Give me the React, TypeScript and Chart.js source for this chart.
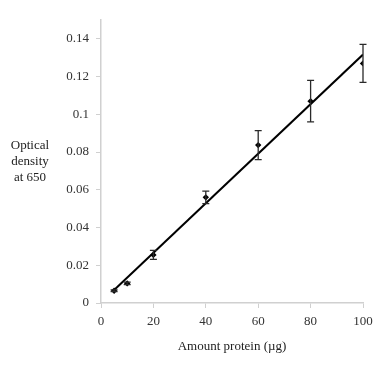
import React, { useEffect, useRef } from "react";
import { Chart, registerables } from "chart.js";

Chart.register(...registerables);

const proteinUg = [5, 10, 20, 40, 60, 80, 100];
const opticalDensity = [0.0065, 0.0104, 0.0255, 0.056, 0.0837, 0.107, 0.127];
const errorAmount = [0.0005, 0.0007, 0.0024, 0.0033, 0.0077, 0.011, 0.0101];
const xTicks = [0, 20, 40, 60, 80, 100];
const yTickStep = 0.02;
const yTitleLines = ["Optical", "density", "at 650"];
const xTitle = "Amount protein (\u00b5g)";

const FONT = "'Liberation Serif', 'Times New Roman', serif";

function linearFit(xs: number[], ys: number[]) {
  const n = xs.length;
  const mx = xs.reduce((a, b) => a + b, 0) / n;
  const my = ys.reduce((a, b) => a + b, 0) / n;
  let sxy = 0;
  let sxx = 0;
  for (let i = 0; i < n; i++) {
    sxy += (xs[i] - mx) * (ys[i] - my);
    sxx += (xs[i] - mx) * (xs[i] - mx);
  }
  const slope = sxy / sxx;
  return { slope, intercept: my - slope * mx };
}

const errorBarPlugin = {
  id: "errorBars",
  afterDatasetsDraw(chart: any) {
    const { ctx, scales } = chart;
    const xs = scales.x;
    const ys = scales.y;
    ctx.save();
    ctx.strokeStyle = "#2a2a2a";
    ctx.lineWidth = 1.3;
    proteinUg.forEach((xv, i) => {
      const px = xs.getPixelForValue(xv);
      const top = ys.getPixelForValue(opticalDensity[i] + errorAmount[i]);
      const bot = ys.getPixelForValue(opticalDensity[i] - errorAmount[i]);
      const cap = 3.5;
      ctx.beginPath();
      ctx.moveTo(px, top);
      ctx.lineTo(px, bot);
      ctx.moveTo(px - cap, top);
      ctx.lineTo(px + cap, top);
      ctx.moveTo(px - cap, bot);
      ctx.lineTo(px + cap, bot);
      ctx.stroke();
    });
    ctx.restore();
  },
};

const titlePlugin = {
  id: "axisTitles",
  afterDraw(chart: any) {
    const { ctx, chartArea } = chart;
    ctx.save();
    ctx.fillStyle = "#222";
    ctx.font = `13px ${FONT}`;
    ctx.textAlign = "center";
    ctx.textBaseline = "middle";
    const startY = 146;
    yTitleLines.forEach((line, i) => {
      ctx.fillText(line, 30, startY + i * 15.7);
    });
    ctx.fillText(xTitle, (chartArea.left + chartArea.right) / 2, 347);
    ctx.restore();
  },
};

export default function App() {
  const ref = useRef<HTMLCanvasElement>(null);

  useEffect(() => {
    if (!ref.current) return;
    const fit = linearFit(proteinUg, opticalDensity);
    const xMin = proteinUg[0];
    const xMax = proteinUg[proteinUg.length - 1];
    const trend = [
      { x: xMin, y: fit.intercept + fit.slope * xMin },
      { x: xMax, y: fit.intercept + fit.slope * xMax },
    ];
    const chart = new Chart(ref.current, {
      type: "scatter",
      data: {
        datasets: [
          {
            type: "line" as any,
            label: "Linear fit",
            data: trend,
            borderColor: "#000",
            borderWidth: 2,
            pointRadius: 0,
            fill: false,
          },
          {
            label: "Optical density",
            data: proteinUg.map((x, i) => ({ x, y: opticalDensity[i] })),
            pointStyle: "rectRot",
            pointRadius: 3.2,
            backgroundColor: "#000",
            borderColor: "#000",
            borderWidth: 0,
          },
        ],
      },
      options: {
        responsive: false,
        animation: false,
        layout: { padding: { left: 0, top: 20, right: 12, bottom: 0 } },
        plugins: {
          legend: { display: false },
          tooltip: { enabled: false },
        },
        scales: {
          x: {
            type: "linear",
            min: 0,
            max: 100,
            afterFit(scale: any) {
              scale.height = 62;
              scale.paddingLeft = 0;
              scale.paddingRight = 0;
            },
            afterBuildTicks(scale: any) {
              scale.ticks = xTicks.map((v) => ({ value: v }));
            },
            grid: {
              drawOnChartArea: false,
              drawTicks: true,
              tickLength: 5,
              tickColor: "#d0d0d0",
            },
            border: { color: "#d0d0d0", width: 1.5 },
            ticks: {
              color: "#333",
              font: { family: FONT, size: 13 },
              padding: 6,
              maxRotation: 0,
            },
          },
          y: {
            type: "linear",
            min: 0,
            max: 0.15,
            afterFit(scale: any) {
              scale.width = 101;
              scale.paddingTop = 0;
              scale.paddingBottom = 0;
            },
            afterBuildTicks(scale: any) {
              const t: any[] = [];
              for (let k = 0; k * yTickStep <= 0.15 + 1e-9; k++) {
                t.push({ value: Number((k * yTickStep).toFixed(2)) });
              }
              scale.ticks = t;
            },
            grid: {
              drawOnChartArea: false,
              drawTicks: true,
              tickLength: 5,
              tickColor: "#d0d0d0",
            },
            border: { color: "#d0d0d0", width: 1.5 },
            ticks: {
              color: "#333",
              font: { family: FONT, size: 13 },
              padding: 7,
              callback: (v: any) => String(Number(Number(v).toFixed(2))),
            },
          },
        },
      },
      plugins: [errorBarPlugin, titlePlugin],
    });
    return () => chart.destroy();
  }, []);

  return (
    <div style={{ position: "fixed", left: 0, top: 0, width: 375, height: 365, background: "#fff" }}>
      <canvas ref={ref} width={375} height={365} style={{ display: "block" }} />
    </div>
  );
}
